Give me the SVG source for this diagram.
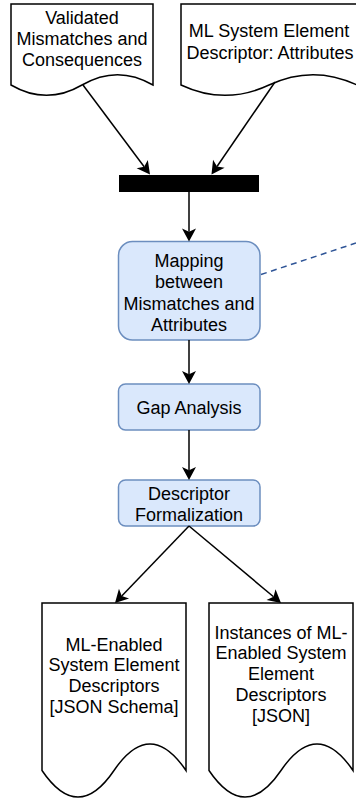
<svg xmlns="http://www.w3.org/2000/svg" width="356" height="799" viewBox="0 0 356 799">
  <style>
    .doc { fill: #ffffff; stroke: #000000; stroke-width: 1.5; stroke-linejoin: miter; }
    .proc { fill: #dae8fc; stroke: #6c8ebf; stroke-width: 1.5; }
    .lbl { font-family: "Liberation Sans", Arial, Helvetica, sans-serif; font-size: 18px; fill: #000000; text-anchor: middle; }
    .edge { fill: none; stroke: #000000; stroke-width: 1.5; marker-end: url(#arrow); }
    .assoc { fill: none; stroke: #2f5597; stroke-width: 1.5; stroke-dasharray: 6 4.5; }
  </style>
  <defs>
    <!-- classic filled arrowhead, anchored at its notch -->
    <marker id="arrow" markerUnits="userSpaceOnUse" markerWidth="16" markerHeight="16" refX="3.25" refY="7" orient="auto" overflow="visible">
      <path d="M0,0 L13,7 L0,14 L3.25,7 Z" fill="#000000" stroke="none"/>
    </marker>
  </defs>

  <rect width="356" height="799" fill="#ffffff"/>

  <!-- input documents -->
  <g id="validated-mismatches">
    <path class="doc" d="M11,4 H153 V85 Q117.5,64.3 82,85 Q46.5,105.7 11,85 Z"/>
    <text class="lbl" x="82" y="24">Validated</text>
    <text class="lbl" x="82" y="45">Mismatches and</text>
    <text class="lbl" x="82" y="66">Consequences</text>
  </g>
  <g id="element-descriptor-attributes">
    <path class="doc" d="M181,4 H357 V85 Q313,64.3 269,85 Q225,105.7 181,85 Z"/>
    <text class="lbl" x="269" y="37">ML System Element</text>
    <text class="lbl" x="270" y="58.5">Descriptor: Attributes</text>
  </g>

  <!-- join bar -->
  <g id="join">
    <rect x="119" y="175" width="140" height="17" fill="#000000"/>
  </g>

  <!-- process steps -->
  <g id="mapping">
    <rect class="proc" x="118.5" y="241.5" width="141.5" height="98.5" rx="14" ry="14"/>
    <text class="lbl" x="189" y="267">Mapping</text>
    <text class="lbl" x="189" y="288.3">between</text>
    <text class="lbl" x="189" y="309.6">Mismatches and</text>
    <text class="lbl" x="189" y="331">Attributes</text>
  </g>
  <g id="gap-analysis">
    <rect class="proc" x="118.5" y="384" width="141.5" height="46" rx="7" ry="7"/>
    <text class="lbl" x="189" y="414">Gap Analysis</text>
  </g>
  <g id="descriptor-formalization">
    <rect class="proc" x="118.5" y="480" width="141.5" height="46" rx="7" ry="7"/>
    <text class="lbl" x="189" y="500">Descriptor</text>
    <text class="lbl" x="189" y="521">Formalization</text>
  </g>

  <!-- output documents -->
  <g id="json-schema">
    <path class="doc" d="M42,603 H186 V770.5 Q150,717.4 114,770.5 Q78,823.6 42,770.5 Z"/>
    <text class="lbl" x="114" y="650.5">ML-Enabled</text>
    <text class="lbl" x="114" y="671.3">System Element</text>
    <text class="lbl" x="114" y="692.1">Descriptors</text>
    <text class="lbl" x="114" y="712.9">[JSON Schema]</text>
  </g>
  <g id="json-instances">
    <path class="doc" d="M209,603 H353 V770.5 Q317,717.4 281,770.5 Q245,823.6 209,770.5 Z"/>
    <text class="lbl" x="281" y="638.5">Instances of ML-</text>
    <text class="lbl" x="281" y="659.3">Enabled System</text>
    <text class="lbl" x="281" y="680.1">Element</text>
    <text class="lbl" x="281" y="700.9">Descriptors</text>
    <text class="lbl" x="281" y="721.7">[JSON]</text>
  </g>

  <!-- connectors -->
  <g id="connectors">
    <path class="edge" d="M83,85 L144.16,166.7"/>
    <path class="edge" d="M275,82 L217,166.5"/>
    <path class="edge" d="M189,192 L189,231.75"/>
    <path class="edge" d="M189,340 L189,374.25"/>
    <path class="edge" d="M189,430 L189,470.25"/>
    <path class="edge" d="M189,526 L121.76,595.97"/>
    <path class="edge" d="M189,526 L273.52,596.74"/>
    <path class="assoc" d="M261,274.5 L356,243"/>
  </g>
</svg>
